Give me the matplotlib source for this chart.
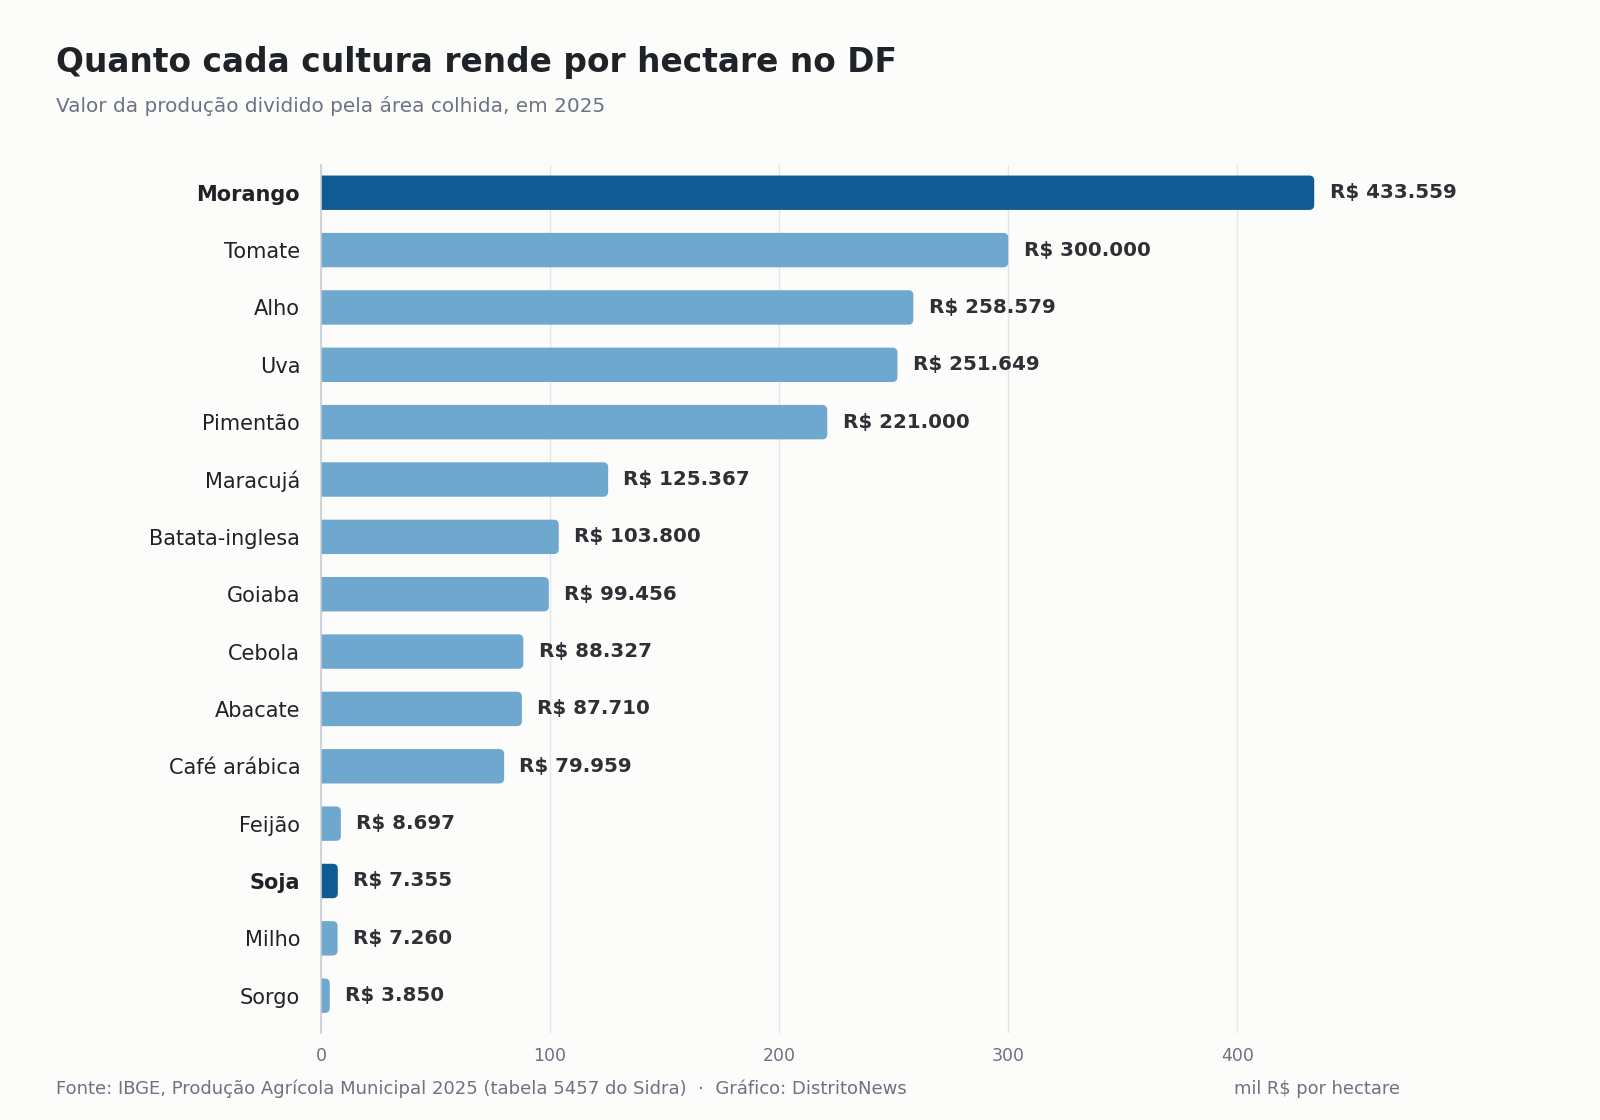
import matplotlib
matplotlib.use("Agg")
import matplotlib.pyplot as plt
from matplotlib.patches import FancyBboxPatch

# dados (R$ por hectare, 2025)
culturas = ["Morango", "Tomate", "Alho", "Uva", "Pimentão", "Maracujá",
            "Batata-inglesa", "Goiaba", "Cebola", "Abacate", "Café arábica",
            "Feijão", "Soja", "Milho", "Sorgo"]
valores = [433559, 300000, 258579, 251649, 221000, 125367, 103800, 99456,
           88327, 87710, 79959, 8697, 7355, 7260, 3850]
destaques = ["Morango", "Soja"]

BG = "#FCFCFB"
DARK = "#105B94"
LIGHT = "#6FA8CF"
TXT = "#1F2328"
GRAY = "#6B7280"

plt.rcParams['font.family'] = ['DejaVu Sans']

fig = plt.figure(figsize=(16, 11.2), dpi=100, facecolor=BG)
ax = fig.add_axes([0.2006, 0.0777, 0.6744, 0.7753], facecolor=BG)

xmax = 471
ax.set_xlim(0, xmax)
ax.set_ylim(len(culturas) - 1 + 0.65, -0.49)

h = 0.6
r = 2.2  # raio em unidades de x
for i, (c, v) in enumerate(zip(culturas, valores)):
    w = v / 1000
    cor = DARK if c in destaques else LIGHT
    p = FancyBboxPatch((-r, i - h / 2), w + r, h,
                       boxstyle=f"round,pad=0,rounding_size={r}",
                       mutation_aspect=0.04, facecolor=cor, edgecolor="none",
                       zorder=3)
    ax.add_patch(p)
    rotulo = "R$ " + f"{v:,}".replace(",", ".")
    ax.annotate(rotulo, xy=(w, i), xytext=(11, 0), textcoords="offset points",
                va="center", ha="left", fontsize=14.3, fontweight="bold",
                color="#2D3035", annotation_clip=False)

ax.set_yticks(range(len(culturas)))
ax.set_yticklabels(culturas)
for lbl, c in zip(ax.get_yticklabels(), culturas):
    lbl.set_fontsize(15)
    lbl.set_color(TXT)
    if c in destaques:
        lbl.set_fontweight("bold")

ax.set_xticks([0, 100, 200, 300, 400])
ax.tick_params(axis="x", length=0, pad=10, labelsize=12.5, labelcolor=GRAY)
ax.tick_params(axis="y", length=0, pad=15)

ax.grid(axis="x", color="#E6E6E6", linewidth=1, zorder=0)
ax.set_axisbelow(True)
for s in ["top", "right", "bottom"]:
    ax.spines[s].set_visible(False)
ax.spines["left"].set_color("#C9CDD6")
ax.spines["left"].set_linewidth(1.2)
ax.spines["left"].set_zorder(4)

ax.set_xlabel("mil R$ por hectare", loc="right", fontsize=12.9, color=GRAY,
              labelpad=11)

fig.text(0.035, 0.944, "Quanto cada cultura rende por hectare no DF",
         fontsize=23.7, fontweight="bold", color=TXT, va="center", ha="left")
fig.text(0.035, 0.905, "Valor da produção dividido pela área colhida, em 2025",
         fontsize=14.4, color=GRAY, va="center", ha="left")
fig.text(0.035, 0.028,
         "Fonte: IBGE, Produção Agrícola Municipal 2025 (tabela 5457 do Sidra)  ·  Gráfico: DistritoNews",
         fontsize=13, color=GRAY, va="center", ha="left")

fig.savefig("out.png", dpi=100, facecolor=BG)
